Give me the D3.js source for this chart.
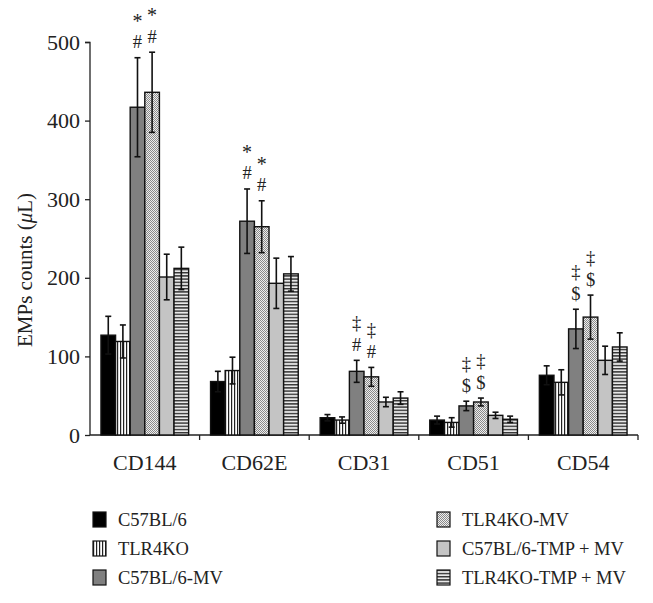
<!DOCTYPE html>
<html><head><meta charset="utf-8">
<script src="https://cdn.jsdelivr.net/npm/d3@7"></script>
<style>body{margin:0;background:#fff}svg{display:block}text{font-family:"Liberation Serif","DejaVu Serif",serif;fill:#222}</style>
</head><body><svg id="c" width="653" height="603"></svg>
<script>
const categories = ["CD144","CD62E","CD31","CD51","CD54"];
const seriesNames = ["C57BL/6","TLR4KO","C57BL/6-MV","TLR4KO-MV","C57BL/6-TMP + MV","TLR4KO-TMP + MV"];
const values = [
  [127, 68, 22, 19, 76],
  [119, 82, 19, 16, 67],
  [417, 272, 81, 37, 135],
  [436, 265, 74, 42, 150],
  [201, 193, 42, 25, 95],
  [212, 205, 47, 20, 112]
];
const errors = [
  [24, 13, 4, 5, 12],
  [21, 17, 4, 6, 16],
  [63, 41, 14, 6, 25],
  [51, 33, 12, 5, 28],
  [29, 32, 6, 4, 18],
  [27, 22, 8, 4, 18]
];
// annotations: [series, category, lower symbol, upper symbol]
const annotations = [
  [2,0,"#","*"],[3,0,"#","*"],
  [2,1,"#","*"],[3,1,"#","*"],
  [2,2,"#","‡"],[3,2,"#","‡"],
  [2,3,"$","‡"],[3,3,"$","‡"],
  [2,4,"$","‡"],[3,4,"$","‡"]
];
const yTicks = [0,100,200,300,400,500];

const svg = d3.select("#c");
const defs = svg.append("defs");
const pv = defs.append("pattern").attr("id","pv").attr("patternUnits","userSpaceOnUse").attr("width",3).attr("height",3);
pv.append("rect").attr("width",3).attr("height",3).attr("fill","#fff");
pv.append("rect").attr("x",0).attr("width",1.2).attr("height",3).attr("fill","#222");
const ph = defs.append("pattern").attr("id","ph").attr("patternUnits","userSpaceOnUse").attr("width",3).attr("height",3.2);
ph.append("rect").attr("width",3).attr("height",3.2).attr("fill","#e8e8e8");
ph.append("rect").attr("y",0).attr("width",3).attr("height",1.4).attr("fill","#333");
const pc = defs.append("pattern").attr("id","pc").attr("patternUnits","userSpaceOnUse").attr("width",2).attr("height",2);
pc.append("rect").attr("width",2).attr("height",2).attr("fill","#eee");
pc.append("rect").attr("width",1).attr("height",1).attr("fill","#8a8a8a");
pc.append("rect").attr("x",1).attr("y",1).attr("width",1).attr("height",1).attr("fill","#8a8a8a");
const fills = ["#000","url(#pv)","#808080","url(#pc)","#c4c4c4","url(#ph)"];

const x0 = d3.scaleBand().domain(categories).range([90,638]).paddingInner(0.2).paddingOuter(0.1);
const x1 = d3.scaleBand().domain(d3.range(6)).range([0,x0.bandwidth()]);
const y = d3.scaleLinear().domain([0,500]).range([435,42]);

// y axis
const ya = svg.append("g").attr("transform","translate(90,0)")
  .call(d3.axisLeft(y).tickValues(yTicks).tickSize(5).tickPadding(5));
ya.select(".domain").attr("stroke","#222").attr("stroke-width",1.3).attr("d","M-5,42.5H0V435");
ya.selectAll(".tick line").attr("stroke","#222").attr("stroke-width",1.3);
ya.selectAll(".tick text").style("font-family","'Liberation Serif',serif").style("font-size","22px").attr("fill","#222");

// x axis
const xa = svg.append("g").attr("transform","translate(0,435)");
xa.append("line").attr("x1",90).attr("x2",638).attr("y1",0).attr("y2",0).attr("stroke","#222").attr("stroke-width",1.3);
const bounds = categories.map((c,i)=>90 + (638-90)/5*(i+1));
xa.selectAll("line.t").data(bounds).enter().append("line").attr("class","t")
  .attr("x1",d=>d).attr("x2",d=>d).attr("y1",0).attr("y2",5).attr("stroke","#222").attr("stroke-width",1.3);
xa.selectAll("text").data(categories).enter().append("text")
  .attr("x",d=>x0(d)+x0.bandwidth()/2).attr("y",35).attr("text-anchor","middle")
  .style("font-size","22px").text(d=>d);

// y label
const yl = svg.append("text").attr("transform","translate(32,270) rotate(-90)").attr("text-anchor","middle").style("font-size","21px");
yl.append("tspan").text("EMPs counts (");
yl.append("tspan").style("font-style","italic").text("μ");
yl.append("tspan").text("L)");

// bars
const data = [];
values.forEach((s,si)=>s.forEach((v,ci)=>data.push({si,ci,v,e:errors[si][ci]})));
svg.append("g").selectAll("rect").data(data).enter().append("rect")
  .attr("x",d=>x0(categories[d.ci])+x1(d.si))
  .attr("y",d=>y(d.v))
  .attr("width",x1.bandwidth())
  .attr("height",d=>y(0)-y(d.v))
  .attr("fill",d=>fills[d.si])
  .attr("stroke","#111").attr("stroke-width",1.4);

// error bars
const eg = svg.append("g").attr("stroke","#111").attr("stroke-width",1.6);
data.forEach(d=>{
  const cx = x0(categories[d.ci])+x1(d.si)+x1.bandwidth()/2;
  eg.append("line").attr("x1",cx).attr("x2",cx).attr("y1",y(d.v+d.e)).attr("y2",y(d.v-d.e));
  eg.append("line").attr("x1",cx-3).attr("x2",cx+3).attr("y1",y(d.v+d.e)).attr("y2",y(d.v+d.e));
  eg.append("line").attr("x1",cx-3).attr("x2",cx+3).attr("y1",y(d.v-d.e)).attr("y2",y(d.v-d.e));
});

// annotations
annotations.forEach(([si,ci,lo,hi])=>{
  const cx = x0(categories[ci])+x1(si)+x1.bandwidth()/2;
  const top = y(values[si][ci]+errors[si][ci]);
  const isStar = hi==="*";
  svg.append("text").attr("x",cx).attr("y",top-9.5).attr("text-anchor","middle").style("font-size","18.5px").text(lo);
  svg.append("text").attr("x",cx).attr("y",isStar?top-30:top-31).attr("text-anchor","middle")
    .style("font-size",isStar?"20px":"18.5px").text(hi);
});

// legend
const lg = svg.append("g");
seriesNames.forEach((n,i)=>{
  const col = Math.floor(i/3), row = i%3;
  const lx = col===0?93:437, ly = 512 + row*29;
  lg.append("rect").attr("x",lx).attr("y",ly).attr("width",13).attr("height",15)
    .attr("fill",fills[i]).attr("stroke","#111").attr("stroke-width",1.2);
  lg.append("text").attr("x",lx+25).attr("y",ly+14).style("font-size","18.5px").text(n);
});
</script></body></html>
